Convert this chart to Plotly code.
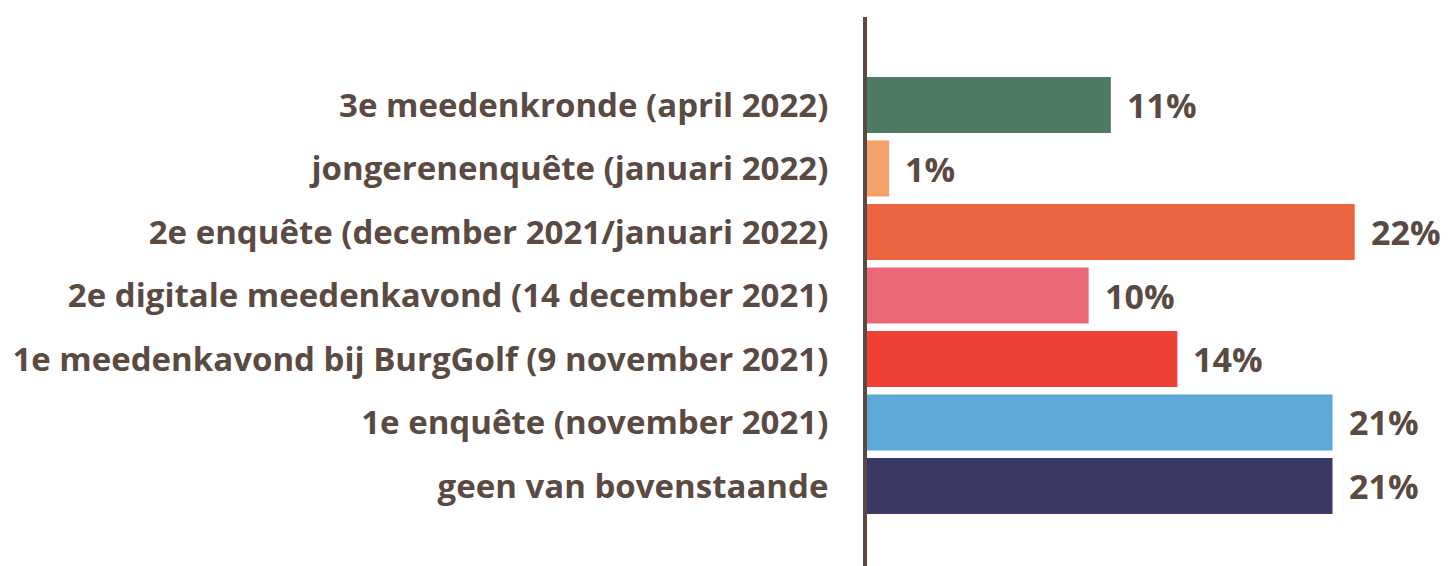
import plotly.graph_objects as go

categories = [
    "geen van bovenstaande",
    "1e enquête (november 2021)",
    "1e meedenkavond bij BurgGolf (9 november 2021)",
    "2e digitale meedenkavond (14 december 2021)",
    "2e enquête (december 2021/januari 2022)",
    "jongerenenquête (januari 2022)",
    "3e meedenkronde (april 2022)",
]
values = [21, 21, 14, 10, 22, 1, 11]
colors = ["#3b3a67", "#5daad9", "#ee4035", "#eb6878", "#ec6341", "#f4a06a", "#4c7a63"]

TEXT = "#5b4a42"
FONT = "Open Sans"

fig = go.Figure(go.Bar(
    x=values, y=categories, orientation="h",
    marker=dict(color=colors, line=dict(width=0)),
    width=0.88, hoverinfo="skip",
))

for c, v in zip(categories, values):
    fig.add_annotation(x=v, y=c, text=f"{v}%", showarrow=False,
                       xanchor="left", xshift=14,
                       font=dict(family=FONT, size=34, color=TEXT, weight="bold"))

fig.update_layout(
    width=1452, height=566,
    margin=dict(l=859, r=0, t=9, b=0),
    paper_bgcolor="white", plot_bgcolor="white",
    showlegend=False,
    xaxis=dict(range=[0, 26.75], visible=False),
    yaxis=dict(range=[-1.386, 7.386], showline=True, linewidth=4, linecolor="#5c4a42",
               showgrid=False, zeroline=False, ticks="",
               ticklabelstandoff=28,
               tickfont=dict(family=FONT, size=33, color=TEXT, weight="bold")),
)

fig.write_html("out.html")
